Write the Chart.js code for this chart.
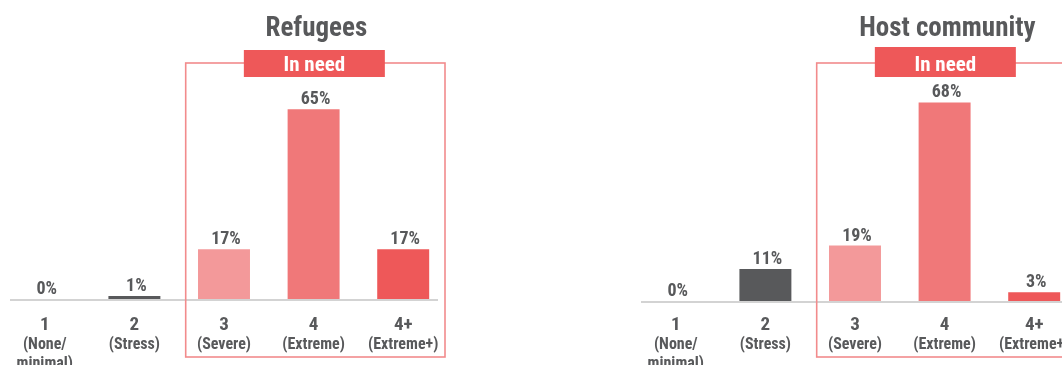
<!DOCTYPE html>
<html>
<head>
<meta charset="utf-8">
<script src="https://cdn.jsdelivr.net/npm/chart.js@4.4.1/dist/chart.umd.min.js"></script>
<style>
  html, body { margin: 0; padding: 0; background: #fff; overflow: hidden; width: 1062px; height: 365px; }
  .panel { position: absolute; width: 450px; height: 365px; }
  #left { left: 0; top: 0; }
  #right { left: 631px; top: 2px; }
</style>
</head>
<body>
<div class="panel" id="left"><canvas id="chartLeft"></canvas></div>
<div class="panel" id="right"><canvas id="chartRight"></canvas></div>
<script>
// Категории (фазы IPC)
const phaseNumbers = ['1', '2', '3', '4', '4+'];
const phaseNames = [['(None/', 'minimal)'], ['(Stress)'], ['(Severe)'], ['(Extreme)'], ['(Extreme+)']];

// Значения, %
const refugeesValues = [0, 1, 17, 65, 17];
const hostValues = [0, 11, 19, 68, 3];

const barColors = ['#58595B', '#58595B', '#F3999A', '#F07879', '#EE5859'];
const textColor = '#58595B';
const fontFamily = '"Roboto Condensed", "Liberation Sans Narrow", "DejaVu Sans Condensed", Roboto, sans-serif';

// Рисуем подписи, рамку "In need" и заголовок
const decorPlugin = {
  id: 'decor',
  afterDatasetsDraw(chart, args, opts) {
    const { ctx, chartArea, scales } = chart;
    const x = scales.x;
    const y = scales.y;
    const step = x.getPixelForValue(1) - x.getPixelForValue(0);
    const base = y.getPixelForValue(0);
    const s = opts.shift;

    ctx.save();

    // базовая линия
    ctx.strokeStyle = '#D3D3D3';
    ctx.lineWidth = 2;
    ctx.beginPath();
    ctx.moveTo(chartArea.left + 10, base + 1);
    ctx.lineTo(chartArea.right - 10, base + 1);
    ctx.stroke();

    // рамка "In need"
    const rLeft = x.getPixelForValue(2) - step / 2 + 6.5;
    const rRight = chartArea.right - 3;
    const rTop = 63 - s;
    const rBottom = 357 - s;
    ctx.strokeStyle = '#F28B8C';
    ctx.lineWidth = 1.6;
    ctx.strokeRect(rLeft, rTop, rRight - rLeft, rBottom - rTop);

    const cx = (rLeft + rRight) / 2 - 1;
    ctx.fillStyle = '#EE5859';
    ctx.fillRect(cx - 70.5, 50 - s - opts.tagExtra, 141, 27 + opts.tagExtra);
    ctx.fillStyle = '#fff';
    ctx.font = 'bold 21px ' + fontFamily;
    ctx.textAlign = 'center';
    ctx.textBaseline = 'alphabetic';
    ctx.fillText('In need', cx, 71 - s);

    // заголовок
    ctx.fillStyle = textColor;
    ctx.font = 'bold 27px ' + fontFamily;
    ctx.fillText(opts.title, cx + 2, 36 - s);

    // подписи значений
    const meta = chart.getDatasetMeta(0);
    ctx.font = 'bold 18px ' + fontFamily;
    meta.data.forEach((bar, i) => {
      ctx.fillText(chart.data.datasets[0].data[i] + '%', bar.x + 2, bar.y - 5);
    });

    // подписи категорий
    phaseNumbers.forEach((num, i) => {
      const px = x.getPixelForValue(i);
      ctx.font = 'bold 19px ' + fontFamily;
      ctx.fillText(num, px, 330 - s);
      ctx.font = 'bold 16px ' + fontFamily;
      phaseNames[i].forEach((line, j) => {
        ctx.fillText(line, px, 349 - s + j * 19);
      });
    });

    ctx.restore();
  }
};

function makeChart(canvasId, values, title, shift, tagExtra) {
  return new Chart(document.getElementById(canvasId), {
    type: 'bar',
    data: {
      labels: phaseNumbers,
      datasets: [{
        data: values,
        backgroundColor: barColors,
        borderWidth: 0,
        barPercentage: 0.58,
        categoryPercentage: 1,
      }],
    },
    options: {
      responsive: true,
      maintainAspectRatio: false,
      animation: false,
      layout: { padding: { left: 0, right: 2, top: 7, bottom: 66 } },
      plugins: {
        legend: { display: false },
        tooltip: { enabled: false },
        decor: { title: title, shift: shift, tagExtra: tagExtra },
      },
      scales: {
        x: { display: false },
        y: {
          display: false,
          min: 0,
          max: 100,
        },
      },
    },
    plugins: [decorPlugin],
  });
}

makeChart('chartLeft', refugeesValues, 'Refugees', 0, 0);
makeChart('chartRight', hostValues, 'Host community', 2, 3);
</script>
</body>
</html>
